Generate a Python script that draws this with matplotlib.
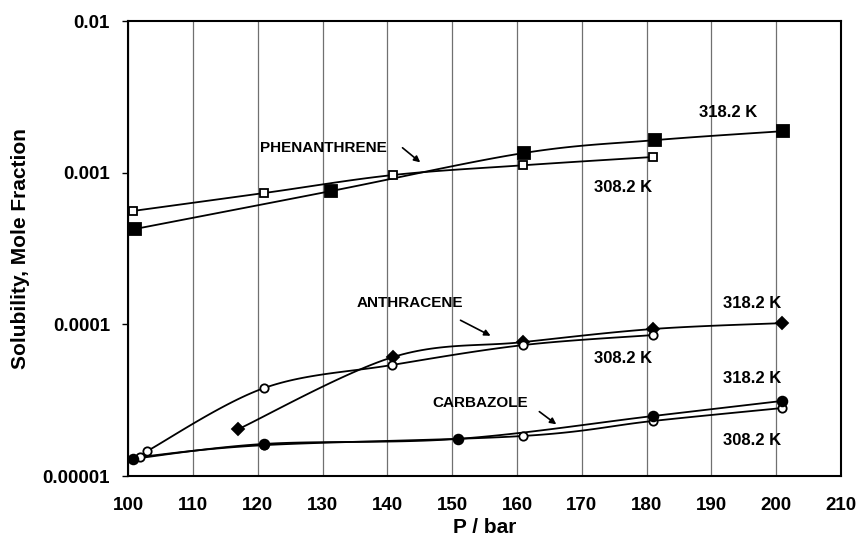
import numpy as np
import matplotlib
matplotlib.use("Agg")
import matplotlib.pyplot as plt

plt.rcParams['font.family'] = ['Liberation Sans', 'DejaVu Sans']
plt.rcParams['font.weight'] = 'bold'

# pressure (bar) and solubility (mole fraction)
phen_318_p = [101.1, 131.3, 161.1, 181.3, 201.1]
phen_318_y = [4.26e-4, 7.57e-4, 1.35e-3, 1.64e-3, 1.88e-3]
phen_308_p = [100.8, 121.0, 140.9, 161.0, 181.0]
phen_308_y = [5.6e-4, 7.35e-4, 9.66e-4, 1.12e-3, 1.27e-3]

anth_318_p = [117.0, 140.9, 161.0, 181.0, 200.9]
anth_318_y = [2.04e-5, 6.1e-5, 7.65e-5, 9.33e-5, 1.02e-4]
anth_308_p = [102.9, 121.0, 140.7, 161.0, 181.0]
anth_308_y = [1.46e-5, 3.81e-5, 5.4e-5, 7.31e-5, 8.51e-5]

carb_318_p = [100.8, 121.0, 150.9, 181.0, 200.9]
carb_318_y = [1.30e-5, 1.63e-5, 1.76e-5, 2.49e-5, 3.13e-5]
carb_308_p = [101.9, 121.0, 161.0, 181.0, 200.9]
carb_308_y = [1.34e-5, 1.60e-5, 1.84e-5, 2.31e-5, 2.81e-5]


def smooth(px, py, n=30):
    # Catmull-Rom curve through the points, in log-y space (like Excel smoothed lines)
    x = np.array(px, dtype=float)
    y = np.log10(np.array(py, dtype=float))
    xs, ys = [], []
    for i in range(len(x) - 1):
        p0 = (x[max(i - 1, 0)], y[max(i - 1, 0)])
        p1 = (x[i], y[i])
        p2 = (x[i + 1], y[i + 1])
        p3 = (x[min(i + 2, len(x) - 1)], y[min(i + 2, len(x) - 1)])
        t = np.linspace(0, 1, n)
        for k in range(2):
            a, b, c, d = p0[k], p1[k], p2[k], p3[k]
            v = 0.5 * ((2 * b) + (-a + c) * t + (2 * a - 5 * b + 4 * c - d) * t ** 2
                       + (-a + 3 * b - 3 * c + d) * t ** 3)
            (xs if k == 0 else ys).append(v)
    return np.concatenate(xs), 10 ** np.concatenate(ys)


fig = plt.figure(figsize=(8.6, 5.46), dpi=100)
ax = fig.add_axes([0.149, 0.128, 0.829, 0.8335])

series = [
    (phen_318_p, phen_318_y, dict(marker='s', ms=8.5, mfc='black')),
    (phen_308_p, phen_308_y, dict(marker='s', ms=5.5, mfc='white')),
    (anth_318_p, anth_318_y, dict(marker='D', ms=6, mfc='black')),
    (anth_308_p, anth_308_y, dict(marker='o', ms=6, mfc='white')),
    (carb_308_p, carb_308_y, dict(marker='o', ms=6, mfc='white')),
    (carb_318_p, carb_318_y, dict(marker='o', ms=7, mfc='black')),
]
for px, py, st in series:
    sx, sy = smooth(px, py)
    ax.plot(sx, sy, color='black', lw=1.3, zorder=3)
    ax.plot(px, py, ls='none', mec='black', mew=1.3, zorder=4, **st)

ax.set_yscale('log')
ax.set_xlim(100, 210)
ax.set_ylim(1e-5, 1e-2)
ax.set_xticks(np.arange(100, 211, 10))
ax.set_yticks([1e-5, 1e-4, 1e-3, 1e-2])
ax.set_yticklabels(['0.00001', '0.0001', '0.001', '0.01'])
ax.yaxis.set_minor_locator(matplotlib.ticker.NullLocator())
ax.tick_params(axis='x', length=0, pad=15, labelsize=13.5)
ax.tick_params(axis='y', length=4, width=1, pad=9, labelsize=13.5)
ax.grid(axis='x', color='#707070', lw=0.9)
ax.set_axisbelow(True)
for s in ax.spines.values():
    s.set_linewidth(1.5)

ax.set_xlabel('P / bar', fontsize=15, fontweight='bold', labelpad=3)
ax.set_ylabel('Solubility, Mole Fraction', fontsize=15, fontweight='bold', labelpad=9)

fs = 12
fn = 11
arrow = dict(arrowstyle='-|>', color='black', lw=1.2, mutation_scale=9)

ax.text(130.2, 1.46e-3, 'PHENANTHRENE', fontsize=fn, ha='center', va='center')
ax.annotate('', xy=(145.4, 1.14e-3), xytext=(142.0, 1.5e-3), arrowprops=arrow)
ax.text(192.6, 2.48e-3, '318.2 K', fontsize=fs, ha='center', va='center')
ax.text(176.4, 8.05e-4, '308.2 K', fontsize=fs, ha='center', va='center')

ax.text(143.4, 1.38e-4, 'ANTHRACENE', fontsize=fn, ha='center', va='center')
ax.annotate('', xy=(156.3, 8.26e-5), xytext=(150.9, 1.086e-4), arrowprops=arrow)
ax.text(196.3, 1.38e-4, '318.2 K', fontsize=fs, ha='center', va='center')
ax.text(176.4, 5.92e-5, '308.2 K', fontsize=fs, ha='center', va='center')

ax.text(196.3, 4.37e-5, '318.2 K', fontsize=fs, ha='center', va='center')
ax.text(154.3, 3.03e-5, 'CARBAZOLE', fontsize=fn, ha='center', va='center')
ax.annotate('', xy=(166.4, 2.14e-5), xytext=(163.1, 2.73e-5), arrowprops=arrow)
ax.text(196.3, 1.73e-5, '308.2 K', fontsize=fs, ha='center', va='center')

fig.savefig('out.png', dpi=100)
